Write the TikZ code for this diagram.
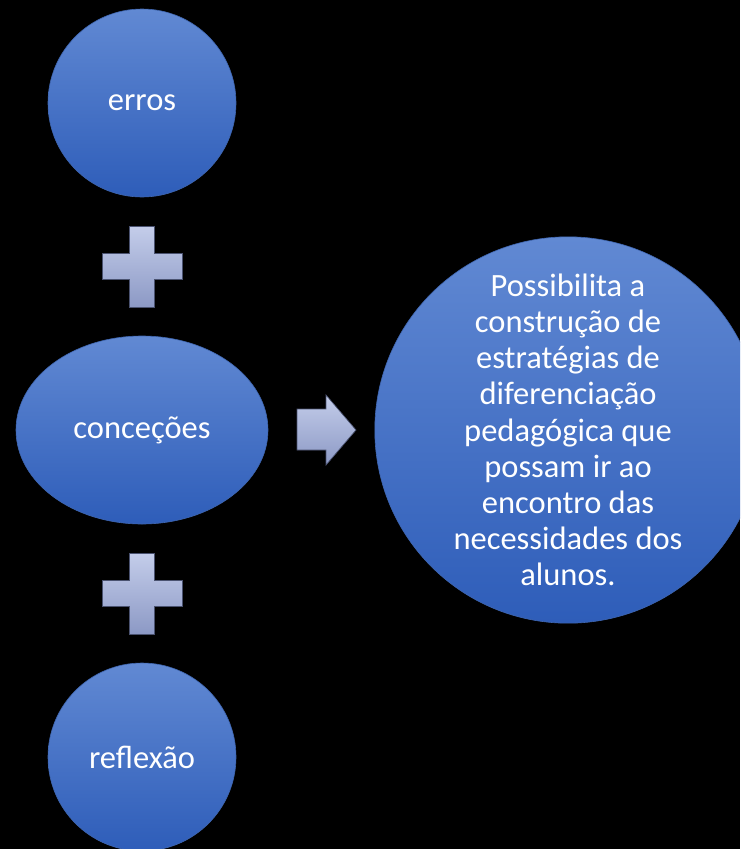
\documentclass[tikz,border=0pt]{standalone}
\usepackage{fontspec}
\usetikzlibrary{shapes.geometric}
\setmainfont{Carlito}
\begin{document}
\begin{tikzpicture}[x=1pt,y=-1pt,
  bubble/.style={circle, draw=blubord, line width=0.6pt, top color=blutop, bottom color=blubot,
    text=white, inner sep=0pt, font=\fontsize{32.5}{36.2}\selectfont, align=center},
  oval/.style={ellipse, draw=blubord, line width=0.6pt, top color=blutop, bottom color=blubot,
    text=white, inner sep=0pt, font=\fontsize{32.5}{36.2}\selectfont},
  sym/.style={draw=symbord, line width=0.7pt, top color=symtop, bottom color=symbot}
]
\definecolor{blutop}{HTML}{6189D3}
\definecolor{blubot}{HTML}{2E5DB9}
\definecolor{blubord}{HTML}{3F66B0}
\definecolor{symtop}{HTML}{C4CDEA}
\definecolor{symbot}{HTML}{8C99C5}
\definecolor{symbord}{HTML}{4A5270}
\useasboundingbox (0,0) rectangle (740,849);
\fill[black] (0,0) rectangle (740,849);
\clip (0,0) rectangle (740,849);
% circles
\node[bubble, minimum size=188pt] (erros) at (142,103) {erros};
\node[bubble, minimum size=188pt] (reflexao) at (142,757) {reflexão};
\node[oval, minimum width=252pt, minimum height=188pt] (concecoes) at (142,430) {conceções};
\node[bubble, minimum size=374pt] (result) at (568,430)
  {Possibilita a\\construção de\\estratégias de\\diferenciação\\pedagógica que\\possam ir ao\\encontro das\\necessidades dos\\alunos.};
% plus signs
\draw[sym] (129,226) -- (154,226) -- (154,253) -- (182,253) -- (182,279) -- (154,279)
  -- (154,307) -- (129,307) -- (129,279) -- (102,279) -- (102,253) -- (129,253) -- cycle;
\draw[sym] (129,553) -- (154,553) -- (154,580) -- (182,580) -- (182,606) -- (154,606)
  -- (154,634) -- (129,634) -- (129,606) -- (102,606) -- (102,580) -- (129,580) -- cycle;
% arrow
\draw[sym] (297,409) -- (326,409) -- (326,395) -- (356,430) -- (326,465) -- (326,450)
  -- (297,450) -- cycle;
\end{tikzpicture}
\end{document}
